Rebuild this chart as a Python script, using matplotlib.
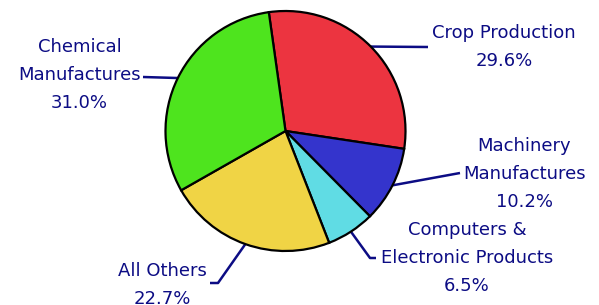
import numpy as np
import matplotlib
matplotlib.use("Agg")
import matplotlib.pyplot as plt

labels = ["Crop Production", "Machinery\nManufactures", "Computers &\nElectronic Products",
          "All Others", "Chemical\nManufactures"]
shares = [29.6, 10.2, 6.5, 22.7, 31.0]
colors = ["#ec3440", "#3434cc", "#60dce4", "#f0d445", "#4ee41e"]

W, H = 599, 305
fig = plt.figure(figsize=(W / 100, H / 100), dpi=100)
ax = fig.add_axes([0, 0, 1, 1])

cx, cy, r = 285.5, H - 131, 120
start = 98
wedges, _ = ax.pie(shares, colors=colors, startangle=start, counterclock=False,
                   center=(cx, cy), radius=r, frame=True,
                   wedgeprops=dict(edgecolor="black", linewidth=1.6))
ax.set_xlim(0, W)
ax.set_ylim(0, H)
ax.set_aspect("equal")
ax.axis("off")

# leader elbows / text anchors in pixel coords (y from top)
elbows = [[(428, 47)], [(460, 173)], [(370, 258), (376, 258)],
          [(218, 283), (210, 283)], [(143, 77)]]
text_pos = [(432, 47, "left"), (463, 174, "left"), (467, 258, "center"),
            (207, 285, "right"), (141, 75, "right")]
navy = "#0c0c84"
for w, lab, val, el, (tx, ty, ha) in zip(wedges, labels, shares, elbows, text_pos):
    mid = np.deg2rad((w.theta1 + w.theta2) / 2)
    px, py = cx + r * np.cos(mid), cy + r * np.sin(mid)
    xs = [px] + [e[0] for e in el]
    ys = [py] + [H - e[1] for e in el]
    ax.plot(xs, ys, color=navy, lw=1.8, solid_capstyle="butt", zorder=0)
    ax.text(tx, H - ty, f"{lab}\n{val:.1f}%", ha=ha, va="center",
            multialignment="center", color=navy, fontsize=13,
            family="DejaVu Sans", linespacing=1.72)

fig.savefig("out.png", dpi=100)
